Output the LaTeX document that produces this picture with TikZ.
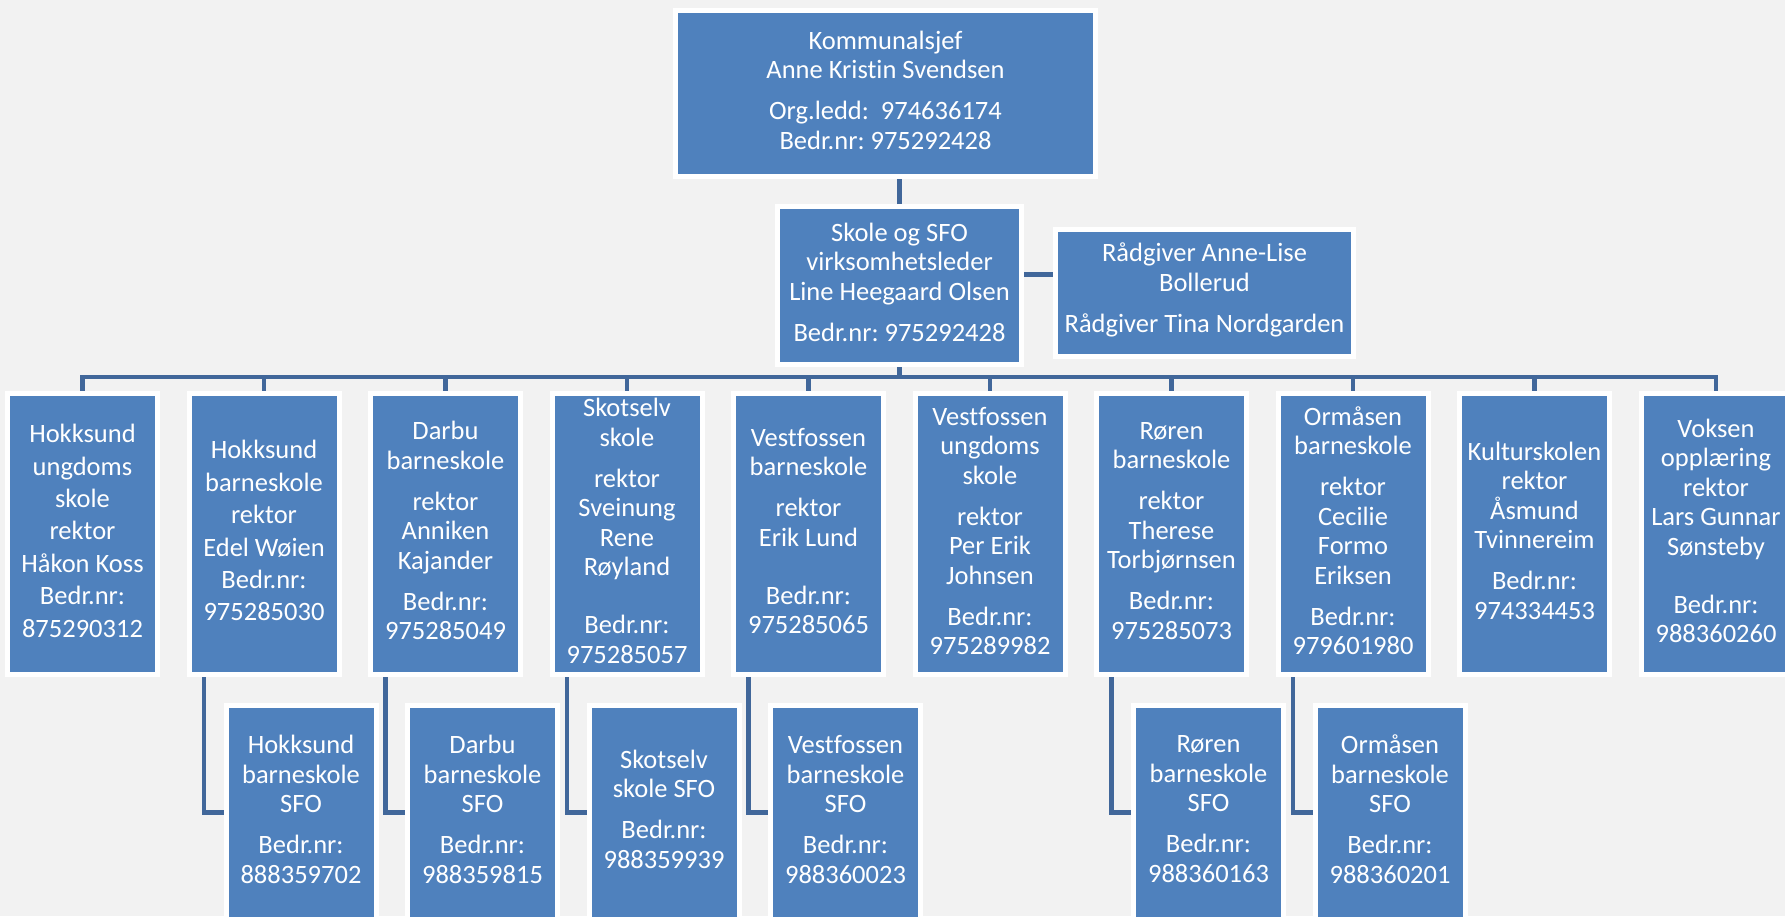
\documentclass[tikz,border=0pt]{standalone}
\usepackage{fontspec}
\setmainfont{Carlito}[Ligatures=NoCommon]
\frenchspacing
\definecolor{boxblue}{HTML}{4F81BD}
\definecolor{lineblue}{HTML}{41679A}
\definecolor{bggray}{HTML}{F2F2F2}
\begin{document}
\begin{tikzpicture}[x=1pt,y=-1pt,
  box/.style={fill=boxblue, draw=white, line width=5pt, text=white, align=center,
    inner sep=0pt, font=\fontsize{26.5}{29.5}\selectfont,
    execute at begin node={\rule[-6.6pt]{0pt}{29.6pt}},
    execute at end node={\rule[-6.6pt]{0pt}{1pt}}},
  unitbox/.style={box, minimum width=150pt, minimum height=281pt},
  sfobox/.style={box, minimum width=150pt, minimum height=214pt},
  conn/.style={draw=lineblue, line width=4.6pt}]
\fill[bggray] (0,0) rectangle (1785,916);
\useasboundingbox (0,0) rectangle (1785,916);
\def\P{11.5pt}
\def\E{28.5pt}
\def\U{2.9pt}
\node[box, minimum width=420pt, minimum height=166pt] (top) at (885.5,93.5)
  {Kommunalsjef\\Anne Kristin Svendsen\\[\P]Org.ledd:\ \ 974636174\\Bedr.nr: 975292428};
\node[box, minimum width=244pt, minimum height=158pt] (skole) at (899.5,285.5)
  {Skole og SFO\\virksomhetsleder\\Line Heegaard Olsen\\[\P]Bedr.nr: 975292428};
\node[box, minimum width=298pt, minimum height=127pt] (raad) at (1204.5,293)
  {Rådgiver Anne-Lise\\Bollerud\\[\P]Rådgiver Tina Nordgarden\rule[-11pt]{0pt}{1pt}};

\node[unitbox] (u1) at (82.5,534) {Hokksund\\[\U]ungdoms\\[\U]skole\\[\U]rektor\\[\U]Håkon Koss\\[\U]Bedr.nr:\\[\U]875290312};
\node[unitbox] (u2) at (264,534) {Hokksund\\[\U]barneskole\\[\U]rektor\\[\U]Edel Wøien\\[\U]Bedr.nr:\\[\U]975285030};
\node[unitbox] (u3) at (445.5,534) {Darbu\\barneskole\\[\P]rektor\\Anniken\\Kajander\\[\P]Bedr.nr:\\975285049};
\node[unitbox] (u4) at (627,534) {Skotselv\\skole\\[\P]rektor\\Sveinung\\Rene\\Røyland\\[\E]Bedr.nr:\\975285057};
\node[unitbox] (u5) at (808.5,534) {Vestfossen\\barneskole\\[\P]rektor\\Erik Lund\\[\E]Bedr.nr:\\975285065};
\node[unitbox] (u6) at (990,534) {Vestfossen\\ungdoms\\skole\\[\P]rektor\\Per Erik\\Johnsen\\[\P]Bedr.nr:\\975289982};
\node[unitbox] (u7) at (1171.5,534) {Røren\\barneskole\\[\P]rektor\\Therese\\Torbjørnsen\\[\P]Bedr.nr:\\975285073};
\node[unitbox] (u8) at (1353,534) {Ormåsen\\barneskole\\[\P]rektor\\Cecilie\\Formo\\Eriksen\\[\P]Bedr.nr:\\979601980};
\node[unitbox] (u9) at (1534.5,534) {Kulturskolen\\rektor\\Åsmund\\Tvinnereim\\[\P]Bedr.nr:\\974334453};
\node[unitbox] (u10) at (1716,534) {Voksen\\opplæring\\rektor\\Lars Gunnar\\Sønsteby\\[\E]Bedr.nr:\\988360260};

\node[sfobox] (s2) at (301,812.5) {Hokksund\\barneskole\\SFO\\[\P]Bedr.nr:\\888359702};
\node[sfobox] (s3) at (482.5,812.5) {Darbu\\barneskole\\SFO\\[\P]Bedr.nr:\\988359815};
\node[sfobox] (s4) at (664,812.5) {Skotselv\\skole SFO\\[\P]Bedr.nr:\\988359939};
\node[sfobox] (s5) at (845.5,812.5) {Vestfossen\\barneskole\\SFO\\[\P]Bedr.nr:\\988360023};
\node[sfobox] (s7) at (1208.5,812.5) {Røren\\barneskole\\SFO\\[\P]Bedr.nr:\\988360163};
\node[sfobox] (s8) at (1390,812.5) {Ormåsen\\barneskole\\SFO\\[\P]Bedr.nr:\\988360201};

\draw[conn] (skole.north) -- (skole.north |- top.south);
\path (skole.south) ++(0,10) coordinate (bus);
\draw[conn] (skole.south) -- (bus);
\foreach \i in {1,...,10} {\draw[conn] (bus) -| (u\i.north);}
\coordinate (sr) at ([yshift=11pt]skole.east);
\draw[conn] (sr) -- (sr -| raad.west);
\foreach \i in {2,3,4,5,7,8} {\draw[conn] ([xshift=-60pt]u\i.south) |- (s\i.west);}
\end{tikzpicture}
\end{document}
